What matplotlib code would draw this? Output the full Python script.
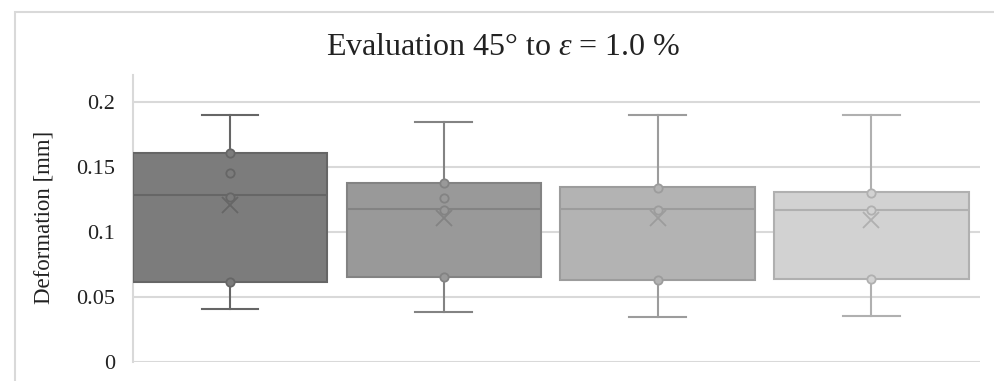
import matplotlib
matplotlib.use("Agg")
import matplotlib.pyplot as plt
from matplotlib.patches import Rectangle

# Box statistics per sample (deformation in mm)
labels = ["S1", "S2", "S3", "S4"]
whisker_low = [0.0404, 0.0386, 0.0345, 0.0355]
q1 = [0.0617, 0.0651, 0.0630, 0.0638]
median = [0.1285, 0.1177, 0.1177, 0.1170]
q3 = [0.1607, 0.1375, 0.1345, 0.1306]
whisker_high = [0.1900, 0.1848, 0.1900, 0.1900]
mean = [0.1208, 0.1106, 0.1106, 0.1093]
inner_points = [
    [0.1607, 0.1457, 0.1272, 0.0617],
    [0.1375, 0.1260, 0.1170, 0.0651],
    [0.1337, 0.1170, 0.0630],
    [0.1298, 0.1166, 0.0638],
]

fills = ["#7c7c7c", "#999999", "#b3b3b3", "#d2d2d2"]
edges = ["#666666", "#838383", "#9c9c9c", "#b0b0b0"]

plt.rcParams["font.family"] = ["Liberation Serif", "DejaVu Serif"]
plt.rcParams["mathtext.fontset"] = "custom"
plt.rcParams["mathtext.rm"] = "Liberation Serif"
plt.rcParams["mathtext.it"] = "Liberation Serif:italic"

W, H = 995, 381
fig = plt.figure(figsize=(W / 100, H / 100), dpi=100)
ax = fig.add_axes([133 / W, 1 - 361.7 / H, (980 - 133) / W, (361.7 - 75) / H])

stats = []
for i in range(len(labels)):
    stats.append(dict(label=labels[i], whislo=whisker_low[i], q1=q1[i],
                      med=median[i], q3=q3[i], whishi=whisker_high[i],
                      mean=mean[i], fliers=[]))

positions = list(range(len(labels)))
for i, s in enumerate(stats):
    ax.bxp([s], positions=[positions[i]], widths=0.91, patch_artist=True,
           showmeans=True, showfliers=False, manage_ticks=False,
           boxprops=dict(facecolor=fills[i], edgecolor=edges[i], linewidth=1.5),
           medianprops=dict(color=edges[i], linewidth=1.5),
           whiskerprops=dict(color=edges[i], linewidth=1.5),
           capprops=dict(color=edges[i], linewidth=1.5),
           capwidths=0.266,
           meanprops=dict(marker="x", markersize=11, markeredgecolor=edges[i],
                          markeredgewidth=1.3),
           zorder=3)
    ax.plot([positions[i]] * len(inner_points[i]), inner_points[i],
            linestyle="none", marker="o", markersize=6,
            markerfacecolor=fills[i], markeredgecolor=edges[i],
            markeredgewidth=1.3, zorder=4)

ax.set_xlim(-0.454, 3.508)
ax.set_ylim(0, 0.221)
ax.set_yticks([0, 0.05, 0.1, 0.15, 0.2])
ax.set_yticklabels(["0", "0.05", "0.1", "0.15", "0.2"])
ax.set_xticks([])
ax.tick_params(axis="y", length=0, pad=13, labelsize=16, labelcolor="#222222")
ax.yaxis.grid(True, color="#d9d9d9", linewidth=1.5, zorder=0)
ax.set_axisbelow(True)
for side in ["top", "right", "bottom"]:
    ax.spines[side].set_visible(False)
ax.spines["left"].set_color("#d9d9d9")
ax.spines["left"].set_linewidth(1.5)

fig.text(503 / W, 1 - 55 / H, r"Evaluation 45° to $\varepsilon$ = 1.0 %",
         ha="center", va="baseline", fontsize=23, color="#222222")
fig.text(44 / W, 1 - 217.5 / H, "Deformation [mm]", rotation=90,
         ha="center", va="center", fontsize=16.5, color="#222222")

fig.patches.append(Rectangle((15 / W, -0.1), 1.2, 1.1 - 12 / H,
                             transform=fig.transFigure, fill=False,
                             edgecolor="#d9d9d9", linewidth=1.5))

fig.savefig("out.png", dpi=100)
